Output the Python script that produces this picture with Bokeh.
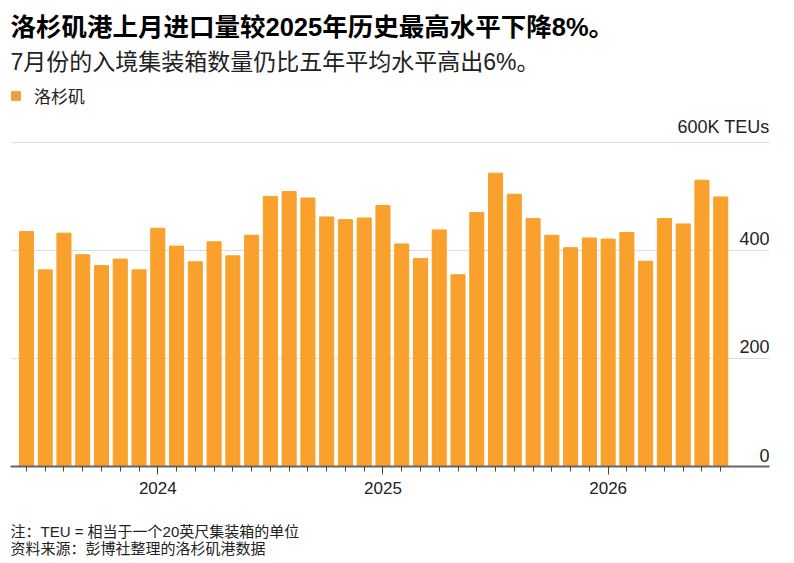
import pandas as pd
from bokeh.plotting import figure
from bokeh.models import (ColumnDataSource, Range1d, FixedTicker, Title,
                          Legend, LegendItem)
from bokeh.core.properties import value
from bokeh.embed import file_html
from bokeh.resources import INLINE

# 洛杉矶港月度进口集装箱量 (千TEU), 2023-06 .. 2026-07
months = [str(m) for m in pd.period_range("2023-06", periods=38, freq="M")]
teus = [435, 364, 432, 392, 372, 384, 364, 441, 408, 379, 416, 390, 428,
        500, 509, 497, 462, 457, 460, 483, 412, 385, 438, 355, 470, 543,
        504, 459, 428, 405, 423, 421, 433, 380, 459, 449, 530, 499]
y_ticks = [0, 200, 400, 600]
y_labels = ["0", "200", "400", "600K TEUs"]

title = "洛杉矶港上月进口量较2025年历史最高水平下降8%。"
subtitle = "7月份的入境集装箱数量仍比五年平均水平高出6%。"
notes = "注：TEU = 相当于一个20英尺集装箱的单位\n资料来源：彭博社整理的洛杉矶港数据"

BAR = "#F9A12C"
FONT = "Liberation Sans, Noto Sans CJK SC"
NUM = "Liberation Sans"

idx = list(range(len(months)))
src = ColumnDataSource(dict(x=idx, top=teus, month=months))
year_ticks = [i for i, m in enumerate(months) if m.endswith("-01")]
year_names = {i: months[i][:4] for i in year_ticks}

p = figure(width=794, height=563, output_backend="svg", toolbar_location=None,
           x_range=Range1d(-0.85, 39.6), y_range=Range1d(0, 709),
           min_border_left=10, min_border_right=25, min_border_top=83,
           min_border_bottom=97)
p.outline_line_color = None

bars = p.vbar(x="x", top="top", width=0.75, source=src, color=BAR)

# 右侧数值标签
lab_src = ColumnDataSource(dict(x=[39.6] * len(y_ticks), y=y_ticks, t=y_labels))
p.text(x="x", y="y", text="t", source=lab_src, text_align="right",
       text_baseline="bottom", y_offset=-5, text_font=value(NUM),
       text_font_size="18px", text_color="#222222")

p.yaxis.visible = False
p.yaxis.ticker = FixedTicker(ticks=y_ticks)
p.ygrid.grid_line_color = "#dcdcdc"
p.xgrid.grid_line_color = None

xa = p.xaxis[0]
xa.ticker = FixedTicker(ticks=year_ticks, minor_ticks=idx)
xa.major_label_overrides = year_names
xa.axis_line_color = "#666666"
xa.axis_line_width = 2
xa.major_tick_line_color = "#444444"
xa.minor_tick_line_color = "#444444"
xa.major_tick_in = 0
xa.major_tick_out = 8
xa.minor_tick_in = 0
xa.minor_tick_out = 5
xa.major_label_standoff = 7
xa.major_label_text_font = NUM
xa.major_label_text_font_size = "17px"
xa.major_label_text_color = "#222222"

legend = Legend(items=[LegendItem(label="洛杉矶", renderers=[bars])],
                orientation="horizontal", location="top_left",
                glyph_width=11, glyph_height=11, label_standoff=13,
                label_text_font=FONT, label_text_font_size="17px",
                label_text_color="#222222", border_line_color=None,
                background_fill_alpha=0, padding=0, margin=0)
p.add_layout(legend, "center")

p.add_layout(Title(text=subtitle, text_font=FONT, text_font_size="23px",
                   text_font_style="normal", text_color="#222222",
                   standoff=17), "above")
p.add_layout(Title(text=title, text_font=FONT, text_font_size="25.5px",
                   text_font_style="bold", text_color="#000000",
                   standoff=-4), "above")

# 注释与数据来源（上方留白）
p.add_layout(Title(text=" ", text_font_size="1px", standoff=16), "below")
p.add_layout(Title(text=notes, text_font=FONT, text_font_size="15px",
                   text_font_style="normal", text_color="#222222",
                   text_line_height=1.03, standoff=10), "below")

open("out.html", "w").write(file_html(p, INLINE))
